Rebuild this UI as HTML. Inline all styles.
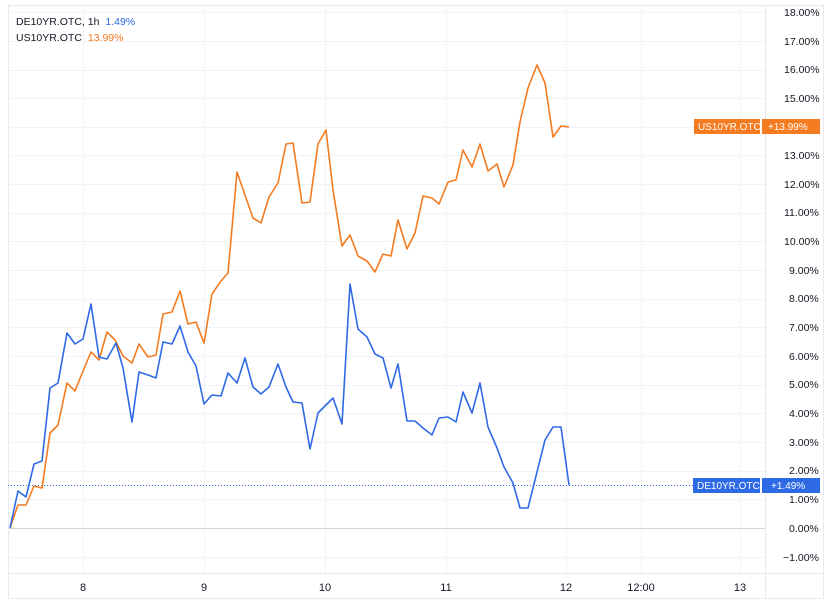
<!DOCTYPE html>
<html><head><meta charset="utf-8"><style>
html,body{margin:0;padding:0;background:#fff;}
svg{display:block;font-family:"Liberation Sans","DejaVu Sans",sans-serif;}
</style></head><body>
<svg width="832" height="604" viewBox="0 0 832 604" xmlns="http://www.w3.org/2000/svg">
<rect width="832" height="604" fill="#fff"/>
<g stroke="#f0f3fa" stroke-width="1">
<line x1="8" x2="765" y1="12.5" y2="12.5"/><line x1="8" x2="765" y1="41.5" y2="41.5"/><line x1="8" x2="765" y1="70.5" y2="70.5"/><line x1="8" x2="765" y1="98.5" y2="98.5"/><line x1="8" x2="765" y1="127.5" y2="127.5"/><line x1="8" x2="765" y1="155.5" y2="155.5"/><line x1="8" x2="765" y1="184.5" y2="184.5"/><line x1="8" x2="765" y1="213.5" y2="213.5"/><line x1="8" x2="765" y1="241.5" y2="241.5"/><line x1="8" x2="765" y1="270.5" y2="270.5"/><line x1="8" x2="765" y1="299.5" y2="299.5"/><line x1="8" x2="765" y1="327.5" y2="327.5"/><line x1="8" x2="765" y1="356.5" y2="356.5"/><line x1="8" x2="765" y1="385.5" y2="385.5"/><line x1="8" x2="765" y1="413.5" y2="413.5"/><line x1="8" x2="765" y1="442.5" y2="442.5"/><line x1="8" x2="765" y1="471.5" y2="471.5"/><line x1="8" x2="765" y1="499.5" y2="499.5"/><line x1="8" x2="765" y1="557.5" y2="557.5"/>
<line x1="83.5" x2="83.5" y1="5" y2="573"/><line x1="204.5" x2="204.5" y1="5" y2="573"/><line x1="325.5" x2="325.5" y1="5" y2="573"/><line x1="446.5" x2="446.5" y1="5" y2="573"/><line x1="566.5" x2="566.5" y1="5" y2="573"/><line x1="641.5" x2="641.5" y1="5" y2="573"/><line x1="740.5" x2="740.5" y1="5" y2="573"/>
</g>
<line x1="8" x2="765" y1="528.5" y2="528.5" stroke="#d1d4dc"/>
<g stroke="#e8eaf0" fill="none">
<rect x="8.5" y="5.5" width="815" height="593"/>
<line x1="765.5" x2="765.5" y1="5" y2="598"/>
<line x1="8" x2="823" y1="573.5" y2="573.5"/>
</g>
<line x1="8" x2="693" y1="485.5" y2="485.5" stroke="#2f6ae6" stroke-dasharray="1 2"/>
<polyline fill="none" stroke="#f47b20" stroke-width="1.6" stroke-linejoin="round" points="10,528 18,505 26,505 34,486 42,488 50,433 58,425 67,383 75,391 83,371 91,352 99,360 107,332 115,340 123,356 132,363 139,344 148,357 156,355 163,314 172,312 180,291 188,324 196,322 204,343 212,294 221,281 228,273 237,172 245,195 253,218 261,223 269,197 278,183 286,144 293,143 302,203 310,202 318,144 326,130 333,190 342,246 350,235 358,256 367,261 375,272 383,254 391,256 398,220 407,249 415,233 423,196 432,198 439,204 448,182 456,180 463,150 472,167 480,144 488,171 497,164 504,187 513,165 520,122 528,88 537,65 545,83 553,137 561,126 569,127"/>
<polyline fill="none" stroke="#2f6ae6" stroke-width="1.6" stroke-linejoin="round" points="10,528 18,491 26,497 34,464 42,461 50,388 58,383 67,333 75,344 83,339 91,304 99,357 107,359 116,343 123,368 132,422 139,372 148,375 156,378 163,342 172,344 180,326 188,352 196,366 204,404 212,395 221,396 228,373 237,383 245,358 253,387 261,394 269,387 278,364 286,387 293,402 302,403 310,449 318,413 326,405 333,398 342,424 350,284 358,329 367,337 375,354 383,358 391,388 398,364 407,421 415,421 423,428 432,435 439,418 448,417 456,422 463,392 472,413 480,383 488,427 497,448 504,467 513,483 520,508 528,508 537,472 545,440 553,427 561,427 569,485"/>
<g font-size="10.5" fill="#131722">
<text x="784" y="16">18.00%</text><text x="784" y="45">17.00%</text><text x="784" y="73">16.00%</text><text x="784" y="102">15.00%</text><text x="784" y="159">13.00%</text><text x="784" y="188">12.00%</text><text x="784" y="216">11.00%</text><text x="784" y="245">10.00%</text><text x="789" y="274">9.00%</text><text x="789" y="302">8.00%</text><text x="789" y="331">7.00%</text><text x="789" y="360">6.00%</text><text x="789" y="388">5.00%</text><text x="789" y="417">4.00%</text><text x="789" y="446">3.00%</text><text x="789" y="474">2.00%</text><text x="789" y="503">1.00%</text><text x="789" y="532">0.00%</text><text x="783" y="561">−1.00%</text>
</g>
<g font-size="11" fill="#131722" text-anchor="middle">
<text x="83" y="591">8</text><text x="204" y="591">9</text><text x="325" y="591">10</text><text x="446" y="591">11</text><text x="566" y="591">12</text><text x="641" y="591">12:00</text><text x="740" y="591">13</text>
</g>
<rect x="694" y="119" width="66" height="15" fill="#f47b20"/>
<rect x="762" y="119" width="58" height="15" fill="#f47b20"/>
<rect x="693" y="478" width="67" height="15" fill="#2f6ae6"/>
<rect x="762" y="478" width="58" height="15" fill="#2f6ae6"/>
<g font-size="10" fill="#fff">
<text x="698" y="130">US10YR.OTC</text><text x="768" y="130">+13.99%</text>
<text x="697" y="489">DE10YR.OTC</text><text x="771" y="489">+1.49%</text>
</g>
<g font-size="10.5">
<text x="16" y="25" fill="#131722">DE10YR.OTC, 1h <tspan fill="#2f6ae6" dx="3">1.49%</tspan></text>
<text x="16" y="41" fill="#131722">US10YR.OTC <tspan fill="#f47b20" dx="3">13.99%</tspan></text>
</g>
</svg>
</body></html>
